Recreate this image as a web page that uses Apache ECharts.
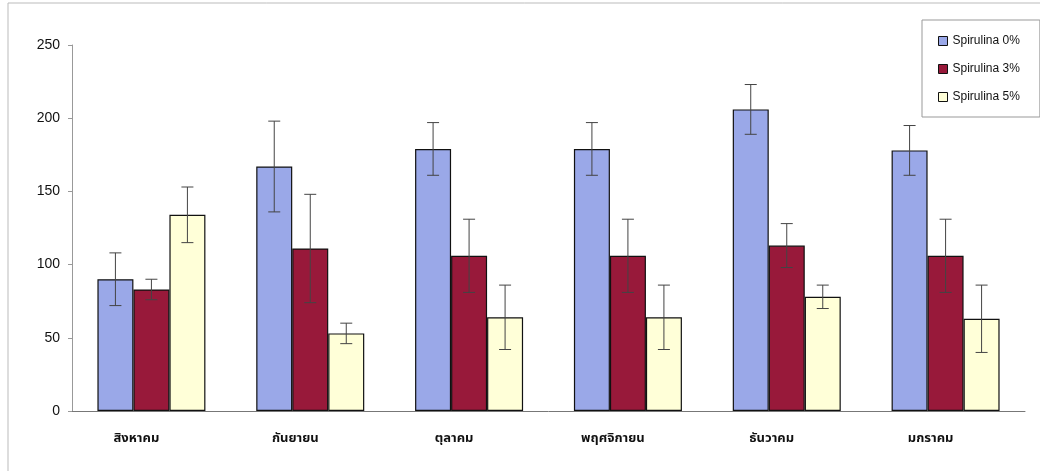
<!DOCTYPE html>
<html><head><meta charset="utf-8">
<script src="https://cdn.jsdelivr.net/npm/echarts@6/dist/echarts.min.js"></script>
<style>html,body{margin:0;padding:0;background:#fff}#c{width:1040px;height:471px}</style>
</head><body><div id="c"></div>
<script>
const categories = ['สิงหาคม','กันยายน','ตุลาคม','พฤศจิกายน','ธันวาคม','มกราคม'];
const seriesNames = ['Spirulina 0%','Spirulina 3%','Spirulina 5%'];
const spirulina0 = [90, 167, 179, 179, 206, 178];
const spirulina3 = [83, 111, 106, 106, 113, 106];
const spirulina5 = [134, 53, 64, 64, 78, 63];
const err0 = [18, 31, 18, 18, 17, 17];
const err3 = [7, 37, 25, 25, 15, 25];
const err5 = [19, 7, 22, 22, 8, 23];
const yTicks = [0, 50, 100, 150, 200, 250];

const colors = ['#9aa8e8', '#98193a', '#ffffd8'];
const values = [spirulina0, spirulina3, spirulina5];
const errs = [err0, err3, err5];
const catGap = 0.32;

const chart = echarts.init(document.getElementById('c'));
const series = [];
values.forEach((v, i) => {
  series.push({
    name: seriesNames[i], type: 'bar', data: v, barGap: '0%', barCategoryGap: '32%',
    itemStyle: {color: colors[i], borderColor: '#111', borderWidth: 1.2}
  });
});
values.forEach((v, i) => {
  series.push({
    type: 'custom', silent: true, z: 5,
    data: v.map((val, k) => [k, val + errs[i][k], val - errs[i][k]]),
    renderItem: function (params, api) {
      const k = api.value(0);
      const hi = api.coord([k, api.value(1)]);
      const lo = api.coord([k, api.value(2)]);
      const band = api.size([1, 0])[0];
      const bw = band * (1 - catGap) / 3;
      const x = hi[0] + (i - 1) * bw;
      const cap = 6;
      const st = {stroke: '#444', lineWidth: 1};
      return {type: 'group', children: [
        {type: 'line', shape: {x1: x, y1: hi[1], x2: x, y2: lo[1]}, style: st},
        {type: 'line', shape: {x1: x - cap, y1: hi[1], x2: x + cap, y2: hi[1]}, style: st},
        {type: 'line', shape: {x1: x - cap, y1: lo[1], x2: x + cap, y2: lo[1]}, style: st}
      ]};
    }
  });
});

chart.setOption({
  animation: false,
  backgroundColor: '#fff',
  grid: {left: 72, right: 15, top: 45, bottom: 60},
  graphic: [{type: 'rect', shape: {x: 8, y: 3, width: 1040, height: 470}, style: {fill: 'none', stroke: '#bbb', lineWidth: 1}, silent: true}],
  legend: {
    data: seriesNames, orient: 'vertical', left: 922, top: 20, icon: 'rect',
    backgroundColor: '#fff', borderColor: '#999', borderWidth: 1,
    padding: [15, 20, 14, 16], itemGap: 16, itemWidth: 9, itemHeight: 9,
    textStyle: {fontFamily: 'Liberation Sans, Arial', fontSize: 12, color: '#111'},
    itemStyle: {borderColor: '#111', borderWidth: 1}
  },
  xAxis: {
    type: 'category', data: categories,
    axisLine: {lineStyle: {color: '#777'}}, axisTick: {show: false},
    axisLabel: {margin: 22, padding: [0, 30, 0, 0], fontSize: 13, fontWeight: 'bold', color: '#111',
      fontFamily: 'Noto Sans Thai, Loma, Garuda, Noto Sans, sans-serif'}
  },
  yAxis: {
    type: 'value', min: 0, max: 250, interval: 50,
    axisLine: {show: true, lineStyle: {color: '#999'}},
    axisTick: {show: true, lineStyle: {color: '#999'}, length: 4},
    splitLine: {show: false},
    axisLabel: {fontSize: 14, color: '#111', margin: 12, fontFamily: 'Liberation Sans, Arial',
      formatter: v => yTicks.includes(v) ? String(v) : ''}
  },
  series: series
});
</script></body></html>
